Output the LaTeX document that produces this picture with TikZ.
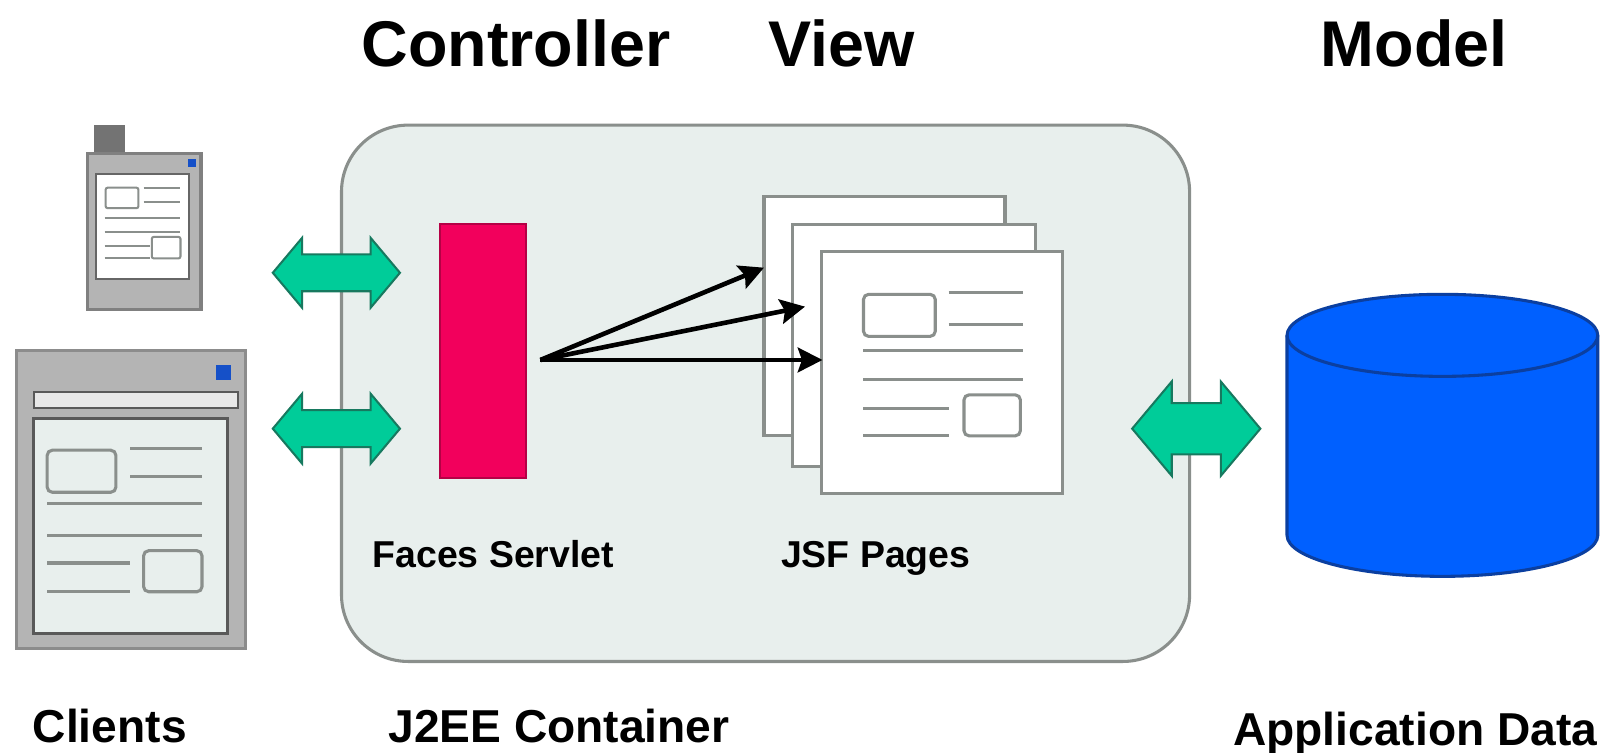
\documentclass[tikz,border=0pt]{standalone}
\usepackage{fontspec}
\setmainfont{Liberation Sans}
\usepackage{tikz}
\usetikzlibrary{arrows.meta, shapes.arrows}
\definecolor{panel}{HTML}{E8EFED}
\definecolor{edgegray}{HTML}{8A8F8C}
\definecolor{shell}{HTML}{B4B4B4}
\definecolor{servlet}{HTML}{F2005C}
\definecolor{flow}{HTML}{00CC99}
\definecolor{flowedge}{HTML}{17795F}
\definecolor{store}{HTML}{0060FF}
\definecolor{storeedge}{HTML}{0B3FA0}
\definecolor{winblue}{HTML}{1550C8}
\tikzset{
    big/.style={inner sep=0pt, anchor=base, font=\bfseries\fontsize{63}{70}\selectfont},
    mid/.style={inner sep=0pt, anchor=base, font=\bfseries\fontsize{45}{50}\selectfont},
    small/.style={inner sep=0pt, anchor=base, font=\bfseries\fontsize{36.5}{40}\selectfont},
    page/.style={draw=edgegray, line width=3pt, fill=white, inner sep=0pt, minimum width=235pt},
    widget/.style={draw=edgegray, line width=3pt, rounded corners=5pt},
    textline/.style={draw=edgegray, line width=3pt},
    link/.style={double arrow, draw=flowedge, line width=2pt, fill=flow, inner xsep=0pt,
        double arrow tip angle=100, double arrow head indent=0pt}
}

\begin{document}
\begin{tikzpicture}[x=1pt, y=-1pt, >={Stealth[length=24pt, width=24pt, inset=4pt]}]
    \useasboundingbox (0,0) rectangle (1568,734);
    % headings
    \node[big] (controller) at (503,65) {Controller};
    \node[big] (view) at (821,65) {View};
    \node[big] (model) at (1379,65) {Model};
    % container
    \node[draw=edgegray, line width=3pt, fill=panel, rounded corners=65pt, minimum width=827pt, minimum height=523pt] (container) at (746.5,383.5) {};
    \node[draw=servlet!75!black, line width=2pt, fill=servlet, minimum width=84pt, minimum height=248pt] (faces) at (471,342) {};
    \node[page, minimum height=233pt] (page1) at (862.5,308.5) {};
    \node[page, minimum height=236pt, minimum width=237pt] (page2) at (891.5,337) {};
    \node[page, minimum height=236pt] (page3) at (918.5,363) {};
    % page content
    \draw[widget] (842,287) rectangle (912,328);
    \draw[widget] (940,385) rectangle (995,425);
    \draw[textline] (925,285) -- (998,285) (925,316) -- (998,316)
          (842,342) -- (998,342) (842,370) -- (998,370)
          (842,398) -- (925,398) (842,425) -- (925,425);
    % servlet to pages
    \coordinate (hub) at (527,351);
    \coordinate (tip1) at (745,261);
    \coordinate (tip2) at (785,299);
    \coordinate (tip3) at (802,351);
    \draw[->, line width=4.5pt] (hub) -- (tip1);
    \draw[->, line width=4.5pt] (hub) -- (tip2);
    \draw[->, line width=4.5pt] (hub) -- (tip3);
    % handheld
    \node[fill=black!55, minimum width=30pt, minimum height=26pt, inner sep=0pt] (antenna) at (107,135) {};
    \node[draw=black!50, line width=3pt, fill=shell, minimum width=111pt, minimum height=152pt, inner sep=0pt] (phone) at (140.5,226) {};
    \node[draw=black!60, line width=2pt, fill=white, minimum width=90pt, minimum height=102pt, inner sep=0pt] (phonescreen) at (139,221) {};
    \node[fill=winblue, minimum width=8pt, minimum height=8pt, inner sep=0pt] (phonebtn) at (187,159) {};
    \draw[widget, line width=2pt, rounded corners=2pt] (103,183) rectangle (135,203);
    \draw[widget, line width=2pt, rounded corners=2pt] (148,231) rectangle (176,252);
    \draw[textline, line width=2pt] (140,183) -- (176,183) (140,197) -- (176,197)
          (102,213) -- (176,213) (102,226) -- (176,226)
          (102,240) -- (146,240) (102,252) -- (146,252);
    % browser
    \node[draw=black!45, line width=3pt, fill=shell, minimum width=223pt, minimum height=290pt, inner sep=0pt] (browser) at (127.5,487) {};
    \node[draw=black!65, line width=2pt, fill=white!70!shell, minimum width=199pt, minimum height=15pt, inner sep=0pt] (address) at (132.5,390) {};
    \node[draw=black!65, line width=3pt, fill=panel, minimum width=189pt, minimum height=210pt, inner sep=0pt] (screen) at (127.5,513) {};
    \node[fill=winblue, minimum width=15pt, minimum height=15pt, inner sep=0pt] (winbtn) at (218,363) {};
    \draw[widget] (46,439) rectangle (113,480);
    \draw[widget] (140,537) rectangle (197,577);
    \draw[textline] (127,437) -- (197,437) (127,465) -- (197,465)
          (46,491) -- (197,491) (46,522) -- (197,522)
          (46,549) -- (127,549) (46,577) -- (127,577);
    % double arrows
    \node[link, inner ysep=17pt, minimum height=124pt, double arrow head extend=16pt] (link1) at (328,266) {};
    \node[link, inner ysep=17pt, minimum height=124pt, double arrow head extend=16pt] (link2) at (328,418) {};
    \node[link, inner ysep=24pt, minimum height=125pt, double arrow head extend=21pt] (link3) at (1166.5,418) {};
    % database
    \draw[draw=storeedge, line width=3pt, fill=store] (1255,327) -- (1255,522) arc[start angle=180, end angle=360, x radius=151.5pt, y radius=40pt]
          -- (1558,327) arc[start angle=0, end angle=180, x radius=151.5pt, y radius=40pt] -- cycle;
    \draw[draw=storeedge, line width=3pt] (1255,327) arc[start angle=180, end angle=360, x radius=151.5pt, y radius=40pt];
    % labels
    \node[small] (faceslabel) at (481,553) {Faces Servlet};
    \node[small] (jsflabel) at (854,553) {JSF Pages};
    \node[mid] (clients) at (107,724) {Clients};
    \node[mid] (j2ee) at (545,724) {J2EE Container};
    \node[mid] (appdata) at (1380,727) {Application Data};
\end{tikzpicture}
\end{document}
